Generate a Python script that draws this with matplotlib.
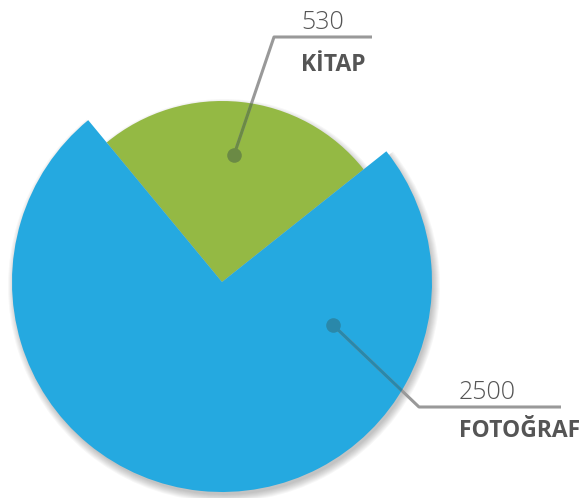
import matplotlib.pyplot as plt
from matplotlib.patches import Wedge

# values shown on the chart
labels = ['KİTAP', 'FOTOĞRAF']
values = [530, 2500]
# share of the circle each slice takes in the picture (percent)
shares = [25.3, 74.7]
colors = ['#94B944', '#25A9E0']
dark = ['#6B8A45', '#2A88AA']

W, H = 586, 498


def py(y):
    # picture rows -> data y (y up)
    return H - y


fig = plt.figure(figsize=(W / 100, H / 100), dpi=100)
ax = fig.add_axes([0, 0, 1, 1])

cx, cy = 222, py(282)
radii = [181, 210]

wedges, _ = ax.pie(shares, colors=colors, startangle=38.5, counterclock=True,
                   center=(cx, cy), radius=1, wedgeprops=dict(linewidth=0))

# soft drop shadow under each slice
for w, r in zip(wedges, radii):
    for i in range(8):
        sh = Wedge((cx + 2, cy - 4), r + 6 - i, w.theta1, w.theta2,
                   color='black', alpha=0.03, linewidth=0, zorder=0.5)
        ax.add_patch(sh)

for w, r in zip(wedges, radii):
    w.set_radius(r)
    w.set_zorder(1 if r == radii[0] else 2)

# leader lines: dot, bend, horizontal
leaders = [
    [(234, 155), (274, 37), (372, 37)],
    [(333, 325), (419, 407), (561, 407)],
]
for k, pts in enumerate(leaders):
    xs = [p[0] for p in pts]
    ys = [py(p[1]) for p in pts]
    ax.plot(xs, ys, color='#999999', lw=2.2, zorder=3, solid_capstyle='butt')
    ln, = ax.plot(xs, ys, color=dark[k], lw=2.2, zorder=4, solid_capstyle='butt')
    ln.set_clip_path(wedges[k])
    ax.plot(xs[0], ys[0], 'o', ms=10.5, color=dark[k], mec='none', zorder=5)

# text
txt = [(301, 29, 71), (459, 399, 437)]
for k, (tx, ty1, ty2) in enumerate(txt):
    ax.text(tx, py(ty1), str(values[k]), fontsize=18, color='#555555',
            family='Open Sans', weight='light', va='baseline', ha='left', zorder=6)
    ax.text(tx, py(ty2), labels[k], fontsize=16.5, color='#555555',
            family='Open Sans', weight='bold', va='baseline', ha='left', zorder=6)

ax.set_xlim(0, W)
ax.set_ylim(0, H)
ax.set_aspect('auto')
ax.axis('off')

fig.savefig('out.png', dpi=100)
